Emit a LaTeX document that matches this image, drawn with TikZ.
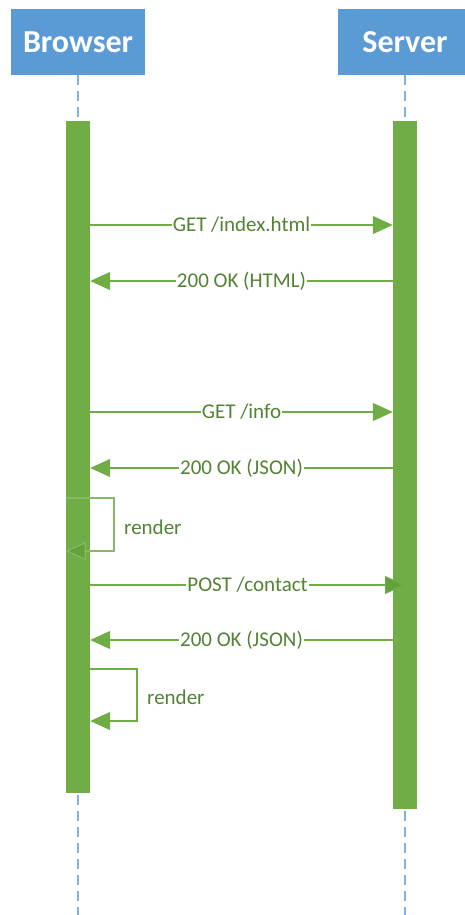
\documentclass[tikz,border=0pt]{standalone}
\usepackage{fontspec}
\setmainfont{Carlito}
\usetikzlibrary{arrows.meta}
\definecolor{hdrblue}{HTML}{5B9BD5}
\definecolor{lifeblue}{HTML}{80B0DF}
\definecolor{actgreen}{HTML}{70AD47}
\definecolor{txtgreen}{HTML}{548235}
\definecolor{tipgreen}{HTML}{62A23A}
\tikzset{
  header/.style={fill=hdrblue, text=white, minimum width=134pt, minimum height=66pt,
    inner sep=0pt, font=\fontsize{32}{38}\selectfont\bfseries},
  lifeline/.style={draw=lifeblue, line width=2pt, dash pattern=on 10pt off 6pt},
  actbar/.style={fill=actgreen, minimum width=24pt, inner sep=0pt, anchor=north},
  msg/.style={draw=actgreen, line width=1.2pt,
    -{Triangle[length=20pt, width=18pt, fill=actgreen]}},
  lbl/.style={fill=white, text=txtgreen, inner sep=1pt,
    font=\fontsize{21}{25}\selectfont},
  note/.style={text=txtgreen, inner sep=0pt, anchor=west,
    font=\fontsize{21}{25}\selectfont}
}
\begin{document}
\begin{tikzpicture}[x=1pt, y=-1pt]
\useasboundingbox (0,0) rectangle (465,915);
\clip (0,0) rectangle (465,915);

% participants
\node[header] (browser) at (78,42) {Browser};
\node[header] (server) at (405,42) {Server};

% lifelines
\coordinate (browserEnd) at (78,915);
\coordinate (serverEnd) at (405,915);
\draw[lifeline] (browser.south) -- (browserEnd);
\draw[lifeline] (server.south) -- (serverEnd);

% activation bars
\node[actbar, minimum height=672pt] (actB) at (78,121) {};
\node[actbar, minimum height=688pt] (actS) at (405,121) {};

% page load
\draw[msg] (actB.east |- 0,225) -- node[lbl] {GET /index.html} (actS.west |- 0,225);
\draw[msg] (actS.west |- 0,281) -- node[lbl] {200 OK (HTML)} (actB.east |- 0,281);

% data fetch
\draw[msg] (actB.east |- 0,412) -- node[lbl] {GET /info} (actS.west |- 0,412);
\draw[msg] (actS.west |- 0,468) -- node[lbl] {200 OK (JSON)} (actB.east |- 0,468);

% first render (self call drawn across the bar)
\coordinate (r1a) at (114,498);
\coordinate (r1b) at (114,551);
\draw[draw=actgreen!85!white, line width=1.2pt,
  -{Triangle[length=20pt, width=18pt, fill=tipgreen]}]
  (actB.west |- r1a) -- (r1a) -- (r1b) -- (actB.west |- r1b);
\node[note] (render1) at (124,527) {render};

% form submission
\draw[msg, -{Triangle[length=20pt, width=18pt, fill=tipgreen]}]
  (actB.east |- 0,585) -- node[lbl] {POST /contact} (actS.center |- 0,585);
\draw[msg] (actS.west |- 0,640) -- node[lbl] {200 OK (JSON)} (actB.east |- 0,640);

% second render
\coordinate (r2a) at (137,669);
\coordinate (r2b) at (137,721);
\draw[msg] (actB.east |- r2a) -- (r2a) -- (r2b) -- (actB.east |- r2b);
\node[note] (render2) at (147,697) {render};
\end{tikzpicture}
\end{document}
